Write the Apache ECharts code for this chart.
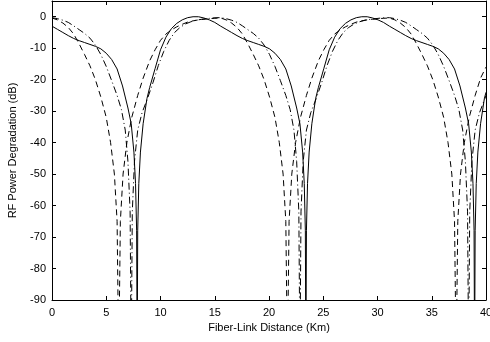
<!DOCTYPE html>
<html>
<head>
<meta charset="utf-8">
<script src="https://cdn.jsdelivr.net/npm/echarts@6/dist/echarts.min.js"></script>
<style>
html,body{margin:0;padding:0;background:#fff;}
#chart{width:490px;height:342px;}
</style>
</head>
<body>
<div id="chart"></div>
<script>
// Tick labels
const xTicks = [0, 5, 10, 15, 20, 25, 30, 35, 40];
const yTicks = [-90, -80, -70, -60, -50, -40, -30, -20, -10, 0];

// Solid curve
const solidX = [0,0.5,1,1.5,2,2.5,3,3.5,4,4.5,5,5.5,6,6.5,7,7.3,7.55,7.7,7.8,7.85,7.9,8.0,8.15,8.4,8.75,9,9.5,10,10.5,11,11.5,12,12.5,13,13.5,14,14.5,15,
  15.55,16.05,16.55,17.05,17.55,18.05,18.55,19.05,19.55,20.05,20.55,21.05,21.55,22.05,22.55,22.85,23.1,23.25,23.35,23.4,23.45,23.55,23.7,23.95,24.3,24.55,25.05,25.55,26.05,26.55,27.05,27.55,28.05,28.55,29.05,29.55,30.05,30.55,
  31.1,31.6,32.1,32.6,33.1,33.6,34.1,34.6,35.1,35.6,36.1,36.6,37.1,37.6,38.1,38.4,38.65,38.8,38.9,38.95,39.0,39.1,39.25,39.5,39.85,40];
const solidY = [-3.0,-4.0,-5.0,-6.0,-6.9,-7.6,-8.2,-8.8,-9.4,-10.2,-11.6,-13.6,-16.6,-22,-29,-34,-43,-53,-68,-110,-68,-53,-43,-34,-26,-22.5,-16.5,-10.5,-6.5,-3.8,-2.1,-1.0,-0.3,0,0,-0.4,-1.0,-1.8,
  -3.0,-4.0,-5.0,-6.0,-6.9,-7.6,-8.2,-8.8,-9.4,-10.2,-11.6,-13.6,-16.6,-22,-29,-34,-43,-53,-68,-110,-68,-53,-43,-34,-26,-22.5,-16.5,-10.5,-6.5,-3.8,-2.1,-1.0,-0.3,0,0,-0.4,-1.0,-1.8,
  -3.0,-4.0,-5.0,-6.0,-6.9,-7.6,-8.2,-8.8,-9.4,-10.2,-11.6,-13.6,-16.6,-22,-29,-34,-43,-53,-68,-110,-68,-53,-43,-34,-26,-24];

// Dashed curve
const dashedX = [0,0.5,1,1.5,2,2.5,3,3.5,4,4.5,5,5.4,5.75,6.0,6.15,6.3,6.55,6.9,7.35,7.9,8.4,9,9.5,10,10.5,11,11.5,12,12.5,13,13.5,14,14.5,15,
  15.55,16.05,16.55,17.05,17.55,18.05,18.55,19.05,19.55,20.05,20.55,20.95,21.3,21.55,21.7,21.85,22.1,22.45,22.9,23.45,23.95,24.55,25.05,25.55,26.05,26.55,27.05,27.55,28.05,28.55,29.05,29.55,30.05,30.55,
  31.1,31.6,32.1,32.6,33.1,33.6,34.1,34.6,35.1,35.6,36.1,36.5,36.85,37.1,37.25,37.4,37.65,38.0,38.45,39.0,39.5,40];
const dashedY = [-0.4,-1.0,-2.0,-3.4,-5.5,-8.6,-12,-15.6,-20,-25.5,-32,-40,-50,-65,-110,-65,-50,-40,-32,-25,-19.5,-14,-10.5,-7.5,-5.5,-4.2,-3.2,-2.4,-1.7,-1.3,-1.0,-0.8,-0.6,-0.5,
  -0.4,-1.0,-2.0,-3.4,-5.5,-8.6,-12,-15.6,-20,-25.5,-32,-40,-50,-65,-110,-65,-50,-40,-32,-25,-19.5,-14,-10.5,-7.5,-5.5,-4.2,-3.2,-2.4,-1.7,-1.3,-1.0,-0.8,-0.6,-0.5,
  -0.4,-1.0,-2.0,-3.4,-5.5,-8.6,-12,-15.6,-20,-25.5,-32,-40,-50,-65,-110,-65,-50,-40,-32,-25,-19.5,-16];

// Dash-dot curve
const dashDotX = [0,0.5,1,1.5,2,2.5,3,3.5,4,4.5,5,5.5,6,6.4,6.75,7.0,7.2,7.3,7.4,7.6,7.9,8.3,8.8,9.3,9.8,10.3,10.8,11.3,11.8,12.3,12.8,13.3,13.8,14.3,14.8,15.2,
  15.55,16.05,16.55,17.05,17.55,18.05,18.55,19.05,19.55,20.05,20.55,21.05,21.55,21.95,22.3,22.55,22.75,22.85,22.95,23.15,23.45,23.85,24.35,24.85,25.35,25.85,26.35,26.85,27.35,27.85,28.35,28.85,29.35,29.85,30.35,30.75,
  31.1,31.6,32.1,32.6,33.1,33.6,34.1,34.6,35.1,35.6,36.1,36.6,37.1,37.5,37.85,38.1,38.3,38.4,38.5,38.7,39.0,39.4,39.9,40];
const dashDotY = [-0.3,-0.6,-1.1,-1.8,-2.9,-4.1,-5.3,-6.8,-9,-12,-15.8,-20.3,-25,-29.5,-36,-46,-62,-110,-62,-46,-36,-30.5,-26,-21,-15.5,-11,-7.5,-5,-3.4,-2.3,-1.6,-1.1,-0.8,-0.6,-0.4,-0.3,
  -0.3,-0.6,-1.1,-1.8,-2.9,-4.1,-5.3,-6.8,-9,-12,-15.8,-20.3,-25,-29.5,-36,-46,-62,-110,-62,-46,-36,-30.5,-26,-21,-15.5,-11,-7.5,-5,-3.4,-2.3,-1.6,-1.1,-0.8,-0.6,-0.4,-0.3,
  -0.3,-0.6,-1.1,-1.8,-2.9,-4.1,-5.3,-6.8,-9,-12,-15.8,-20.3,-25,-29.5,-36,-46,-62,-110,-62,-46,-36,-30.5,-26,-25];

const zip = (xs, ys) => xs.map((x, i) => [x, ys[i]]);

const chart = echarts.init(document.getElementById('chart'), null, {renderer: 'canvas'});
const font = 'Liberation Sans, Arial, sans-serif';
function axisBase() {
  return {
    axisLine: {show: true, onZero: false, lineStyle: {color: '#000', width: 1}},
    axisTick: {show: true, inside: true, length: 4, lineStyle: {color: '#000'}},
    splitLine: {show: false}
  };
}
chart.setOption({
  animation: false,
  backgroundColor: '#fff',
  grid: {left: 52, right: 4, top: 1, bottom: 42, containLabel: false, outerBoundsMode: 'none'},
  xAxis: [
    Object.assign(axisBase(), {
      type: 'value', min: 0, max: 40, interval: 5, position: 'bottom',
      name: 'Fiber-Link Distance (Km)', nameLocation: 'middle', nameGap: 20,
      nameTextStyle: {fontFamily: font, fontSize: 11, color: '#000'},
      axisLabel: {fontFamily: font, fontSize: 11, color: '#000', margin: 7,
        formatter: v => xTicks.indexOf(v) >= 0 ? String(v) : ''}
    }),
    Object.assign(axisBase(), {
      type: 'value', min: 0, max: 40, interval: 5, position: 'top',
      axisLabel: {show: false}
    })
  ],
  yAxis: [
    Object.assign(axisBase(), {
      type: 'value', min: -90, max: 5, interval: 10, position: 'left',
      name: 'RF Power Degradation (dB)', nameLocation: 'middle', nameGap: 34,
      nameTextStyle: {fontFamily: font, fontSize: 11, color: '#000'},
      axisLabel: {fontFamily: font, fontSize: 11, color: '#000', margin: 6,
        formatter: v => yTicks.indexOf(v) >= 0 ? String(v) : ''}
    }),
    Object.assign(axisBase(), {
      type: 'value', min: -90, max: 5, interval: 10, position: 'right',
      axisLabel: {show: false}
    })
  ],
  series: [
    {type: 'line', data: zip(solidX, solidY), showSymbol: false, clip: true,
      lineStyle: {color: '#000', width: 1, type: 'solid'}},
    {type: 'line', data: zip(dashedX, dashedY), showSymbol: false, clip: true,
      lineStyle: {color: '#000', width: 1, type: [6, 4]}},
    {type: 'line', data: zip(dashDotX, dashDotY), showSymbol: false, clip: true,
      lineStyle: {color: '#000', width: 1, type: [7, 3, 1, 3]}}
  ]
});
</script>
</body>
</html>
